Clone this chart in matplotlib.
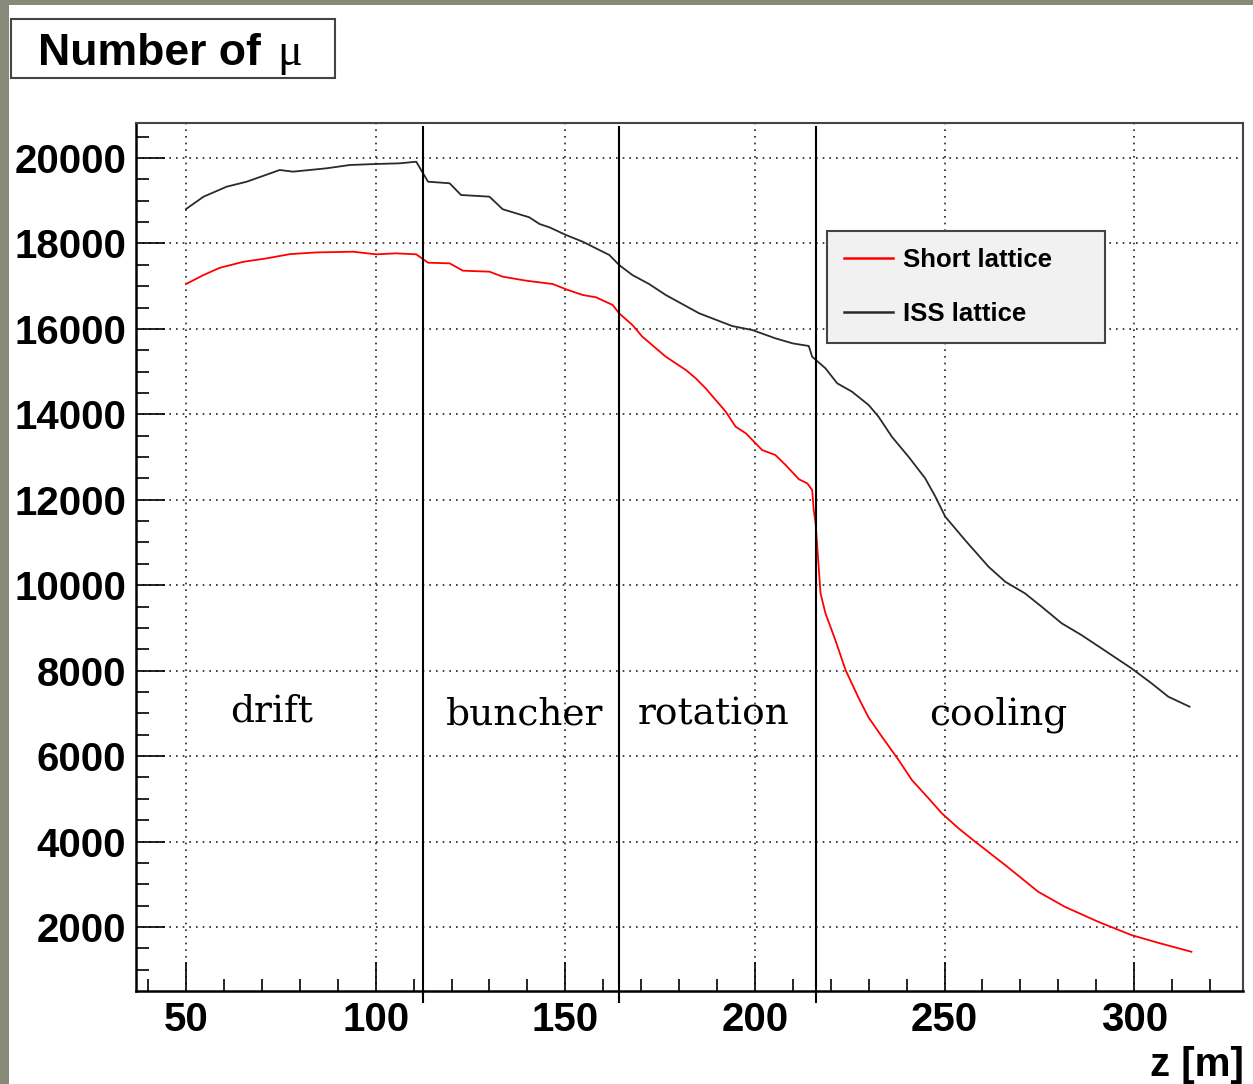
import matplotlib
matplotlib.use("Agg")
import matplotlib.pyplot as plt
from matplotlib.patches import Rectangle
from matplotlib.ticker import MultipleLocator

# muon count along the front end, two lattice options
z_short = [50, 54.6, 58.9, 65.1, 71.2, 77.4, 84.4, 94, 100.2, 105.4, 110.7, 113.8,
           119.5, 123, 130, 133.5, 139.7, 146.7, 150.2, 154.6, 158.1, 162.5, 164.2,
           167.7, 170.3, 176.5, 181.8, 184.4, 187, 192.3, 194.9, 197.6, 201.9, 205.4,
           208.1, 211.6, 213.8, 215.1, 215.5, 216.0, 216.4, 217.3, 218.6, 221.2, 223.9,
           227.4, 230, 233.5, 237.9, 241.4, 245.8, 249.3, 253.7, 258.1, 266, 274.7,
           281.7, 290.5, 299.3, 306.3, 315.1]
n_short = [17050, 17260, 17430, 17570, 17650, 17750, 17790, 17806, 17745, 17768, 17745, 17549,
           17534, 17362, 17339, 17222, 17128, 17050, 16926, 16793, 16739, 16559, 16364,
           16090, 15818, 15349, 15037, 14843, 14609, 14063, 13712, 13556, 13164, 13047,
           12813, 12480, 12385, 12228, 11760, 11448, 10950, 9810, 9342, 8717, 8015,
           7350, 6900, 6453, 5907, 5439, 5010, 4659, 4308, 3996, 3449, 2825,
           2474, 2123, 1811, 1631, 1420]

z_iss = [50, 54.6, 60.7, 66, 74.7, 78.2, 87, 93.2, 100.2, 106.3, 110.7, 113.8, 119.5,
         122.5, 130, 133.5, 140.5, 143.2, 145.8, 150.2, 154.6, 161.6, 164.2, 167.7,
         172.1, 176.5, 185.3, 194, 199.3, 205.4, 210, 214.2, 215.1, 218.6, 221.7,
         225.6, 230, 232.6, 236.1, 240.5, 244.9, 247.6, 250.2, 255.4, 261.6, 266,
         271.2, 275.6, 280.9, 286.1, 291.4, 299.3, 304.6, 309, 314.6]
n_iss = [18806, 19094, 19328, 19445, 19719, 19680, 19758, 19836, 19860, 19875, 19913, 19445, 19408,
         19134, 19095, 18800, 18612, 18455, 18378, 18197, 18040, 17730, 17495, 17260,
         17050, 16793, 16364, 16067, 15973, 15779, 15660, 15600, 15348, 15077, 14726,
         14530, 14217, 13944, 13476, 13008, 12502, 12071, 11603, 11057, 10433, 10082,
         9810, 9497, 9108, 8834, 8522, 8054, 7703, 7391, 7157]

# section boundaries and names
boundaries = [112.6, 164.2, 216.05]
sections = ["drift", "buncher", "rotation", "cooling"]
section_z = [72.6, 139.2, 189.0, 264.2]
section_n = [6800, 6730, 6730, 6730]

W, H = 1253, 1084
fig = plt.figure(figsize=(W / 100, H / 100), dpi=100, facecolor="#878a78")
# white canvas over the olive frame
fig.patches.append(Rectangle((9 / W, 0), 1 - 9 / W, 1 - 5 / H, transform=fig.transFigure,
                             facecolor="white", edgecolor="none", zorder=-5))

ax = fig.add_axes([136 / W, 93 / H, 1107 / W, 868 / H])
ax.set_zorder(1)
ax.set_xlim(36.8, 328.7)
ax.set_ylim(502, 20819)

ax.plot(z_short, n_short, color="#ff0000", lw=1.3, label="Short lattice", zorder=3)
ax.plot(z_iss, n_iss, color="#2a2a2a", lw=1.3, label="ISS lattice", zorder=3)

for zb in boundaries:
    ax.plot([zb, zb], [242, 20726], color="black", lw=1.5, clip_on=False, zorder=4)

for name, zx, ny in zip(sections, section_z, section_n):
    ax.text(zx, ny, name, ha="center", va="baseline", fontsize=27,
            family="DejaVu Serif", zorder=5)

ax.xaxis.set_major_locator(MultipleLocator(50))
ax.xaxis.set_minor_locator(MultipleLocator(10))
ax.yaxis.set_major_locator(MultipleLocator(2000))
ax.yaxis.set_minor_locator(MultipleLocator(500))
ax.grid(True, which="major", color="#222222", lw=1.2, linestyle=(0, (1, 3)))
ax.set_axisbelow(True)

ax.tick_params(which="both", direction="in", top=False, right=False, width=1.2, colors="black")
ax.tick_params(which="major", length=21, pad=7)
ax.tick_params(which="minor", length=9)
for lab in ax.get_xticklabels() + ax.get_yticklabels():
    lab.set_fontfamily("Liberation Sans")
    lab.set_fontweight("bold")
    lab.set_fontsize(29)

for side in ["left", "bottom"]:
    ax.spines[side].set_linewidth(1.8)
    ax.spines[side].set_color("black")
for side in ["top", "right"]:
    ax.spines[side].set_linewidth(1.5)
    ax.spines[side].set_color("#444444")

fig.text(1244 / W, 1 - 1076 / H, "z [m]", ha="right", va="baseline", fontsize=29,
         fontweight="bold", family="Liberation Sans")

leg = ax.legend(loc="upper left", bbox_to_anchor=(827 / W, 1 - 340 / H, 278 / W, 109 / H),
                bbox_transform=fig.transFigure, mode="expand", borderaxespad=0,
                prop={"family": "Liberation Sans", "weight": "bold", "size": 18.5},
                handlelength=1.9, handletextpad=0.4, borderpad=0.66, labelspacing=1.17,
                fancybox=False, framealpha=1, facecolor="#f1f1f1", edgecolor="#444444")
leg.get_frame().set_linewidth(1.5)
for ln in leg.get_lines():
    ln.set_linewidth(1.8)

# title box
fig.patches.append(Rectangle((11 / W, 1 - 78 / H), 324 / W, 59 / H, transform=fig.transFigure,
                             facecolor="white", edgecolor="#444444", lw=1.5, zorder=2))
fig.text(38 / W, 1 - 65 / H, "Number of", ha="left", va="baseline", fontsize=32,
         fontweight="bold", family="Liberation Sans", zorder=3)
fig.text(277 / W, 1 - 65 / H, "\u03bc", ha="left", va="baseline", fontsize=33,
         family="Liberation Serif", zorder=3)

fig.savefig("out.png", dpi=100, facecolor=fig.get_facecolor())
